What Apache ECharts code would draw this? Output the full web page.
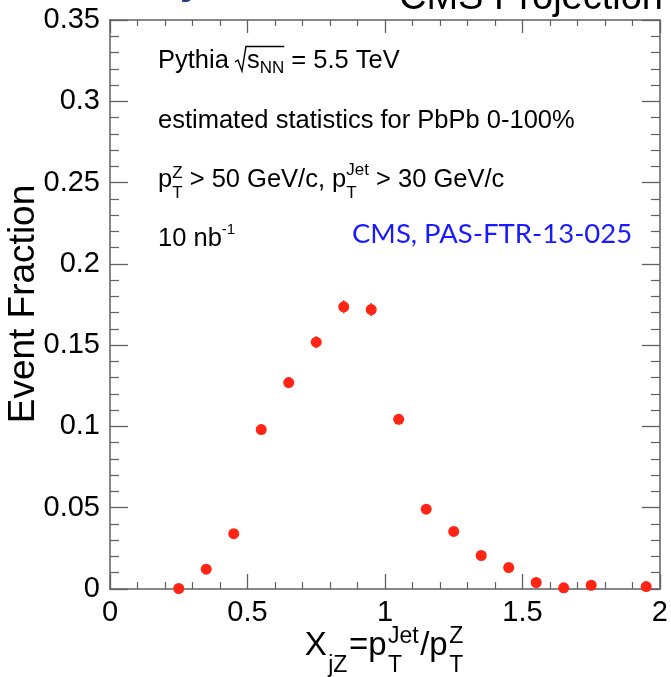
<!DOCTYPE html>
<html><head><meta charset="utf-8">
<script src="https://cdn.jsdelivr.net/npm/echarts@6/dist/echarts.min.js"></script>
<style>html,body{margin:0;padding:0;background:#fff}#c{width:671px;height:677px}</style>
</head><body><div id="c"></div>
<script>
// ---- data ----
const xjz = [0.25,0.35,0.45,0.55,0.65,0.75,0.85,0.95,1.05,1.15,1.25,1.35,1.45,1.55,1.65,1.75,1.95];
const fraction = [0.0003,0.0122,0.0340,0.0981,0.1270,0.1518,0.1736,0.1719,0.1044,0.0491,0.0354,0.0206,0.0132,0.0040,0.0007,0.0023,0.0015];
const fractionErr = [0.0002,0.0011,0.0018,0.0030,0.0034,0.0037,0.0040,0.0040,0.0031,0.0021,0.0018,0.0014,0.0011,0.0006,0.0003,0.0005,0.0004];
const xTickLabels = ['0','0.5','1','1.5','2'];
const yTickLabels = ['0','0.05','0.1','0.15','0.2','0.25','0.3','0.35'];

const FAM = '"Liberation Sans", Arial, Helvetica, sans-serif';
const RED = '#ff2414';
const AX = '#606060';
const mctx = document.createElement('canvas').getContext('2d');
function tw(t, s, fam) { mctx.font = s + 'px ' + (fam || FAM); return mctx.measureText(t).width; }
function txt(t, x, y, s, opts) {
  opts = opts || {};
  const al = opts.align || 'left', va = opts.va || 'middle';
  return {type:'text', x:x, y:y, rotation: opts.rot || 0, silent:true, z:10,
    style:{text:t, font:(opts.weight ? opts.weight + ' ' : '') + s + 'px ' + (opts.fam || FAM), fill: opts.color || '#000',
      align:al, textAlign:al, verticalAlign:va, textVerticalAlign:va}};
}
function richLine(parts, x0, mid, opts) {
  opts = opts || {};
  const fam = opts.fam || FAM, color = opts.color || '#000', gap = opts.gap || 0;
  const widths = parts.map(p => p.w != null ? p.w : Math.max.apply(null, (p.stack || [p]).map(q => tw(q.t, q.s, fam))));
  const total = widths.reduce((a,b)=>a+b,0) + gap*(parts.length-1);
  let x = opts.align === 'center' ? x0 - total/2 : (opts.align === 'right' ? x0 - total : x0);
  const els = [], xs = [];
  parts.forEach((p, i) => {
    xs.push(x);
    const items = p.stack || (p.t != null ? [p] : []);
    items.forEach(q => els.push(txt(q.t, x, mid + (q.dy || 0), q.s, {fam:fam, color:color})));
    x += widths[i] + gap;
  });
  return {els, xs, widths};
}

const S = 25.5, SS = 17;
const graphics = [];
// cut-off slide title remnants
graphics.push(txt('CMS Projection', 663, -1, 38, {align:'right'}));
graphics.push(txt('y', 180, -17, 40, {color:'#1f3a80', weight:'bold'}));

// line 1: Pythia sqrt(s_NN) = 5.5 TeV
const l1 = richLine([
  {t:'Pythia ', s:S}, {w:11}, {t:'s', s:S}, {t:'NN', s:SS, dy:7.5}, {t:' = 5.5 TeV', s:S}
], 158, 61);
graphics.push(...l1.els);
const rx = l1.xs[1], ovEnd = l1.xs[4];
graphics.push({type:'polyline', silent:true, z:10, shape:{points:[[rx-1,62],[rx+2,60],[rx+6,71],[rx+10,46.5],[ovEnd,46.5]]},
  style:{stroke:'#000', lineWidth:1.4, fill:null}});
// line 2
graphics.push(txt('estimated statistics for PbPb 0-100%', 158, 121, S));
// line 3
graphics.push(...richLine([
  {t:'p', s:S}, {stack:[{t:'T', s:SS, dy:13},{t:'Z', s:SS, dy:-7}]},
  {t:' > 50 GeV/c, p', s:S}, {stack:[{t:'T', s:SS, dy:13},{t:'Jet', s:SS, dy:-10}]},
  {t:' > 30 GeV/c', s:S}
], 158, 180).els);
// line 4
graphics.push(...richLine([{t:'10 nb', s:S}, {t:'-1', s:15, dy:-9}], 158, 239).els);
// blue reference
graphics.push(txt('CMS, PAS-FTR-13-025', 352, 234, 27.5, {fam:'Lato, "Open Sans", sans-serif', color:'#1a1aff'}));

// axis titles
graphics.push(txt('Event Fraction', 24, 304, 37, {align:'center', rot:Math.PI/2}));
const MT = 33, ST = 23;
graphics.push(...richLine([
  {t:'X', s:MT}, {t:'jZ', s:ST, dy:20}, {t:'=p', s:MT},
  {stack:[{t:'T', s:ST, dy:20},{t:'Jet', s:ST, dy:-9}]},
  {t:'/p', s:MT}, {stack:[{t:'T', s:ST, dy:20},{t:'Z', s:ST, dy:-9}]}
], 384, 646, {align:'center', gap:1.5}).els);

const chart = echarts.init(document.getElementById('c'), null, {renderer:'canvas'});
const xBase = {type:'value', min:0, max:2, interval:0.5,
  axisLine:{show:true, onZero:false, lineStyle:{color:AX, width:1.5}},
  axisTick:{show:true, inside:true, length:15, lineStyle:{color:AX, width:1.3}},
  minorTick:{show:true, splitNumber:5, length:7, lineStyle:{color:AX, width:1.2}},
  splitLine:{show:false}, minorSplitLine:{show:false}};
const yBase = {type:'value', min:0, max:0.35, interval:0.05,
  axisLine:{show:true, onZero:false, lineStyle:{color:AX, width:1.5}},
  axisTick:{show:true, inside:true, length:18, lineStyle:{color:AX, width:1.3}},
  minorTick:{show:true, splitNumber:5, length:9, lineStyle:{color:AX, width:1.2}},
  splitLine:{show:false}, minorSplitLine:{show:false}};

chart.setOption({
  animation:false,
  backgroundColor:'#fff',
  grid:{left:110, right:8, top:20, bottom:88, containLabel:false},
  xAxis:[
    Object.assign({}, xBase, {position:'bottom',
      axisLabel:{show:true, margin:9, fontSize:29, color:'#000', fontFamily:FAM,
        formatter:v => xTickLabels[Math.round(v/0.5)]}}),
    Object.assign({}, xBase, {position:'top', axisTick:Object.assign({}, xBase.axisTick, {length:13}),
      minorTick:Object.assign({}, xBase.minorTick, {length:6}), axisLabel:{show:false}})
  ],
  yAxis:[
    Object.assign({}, yBase, {position:'left',
      axisLabel:{show:true, margin:10, fontSize:29, color:'#000', fontFamily:FAM,
        formatter:v => yTickLabels[Math.round(v/0.05)]}}),
    Object.assign({}, yBase, {position:'right', axisLabel:{show:false}})
  ],
  series:[
    {type:'custom', xAxisIndex:0, yAxisIndex:0, z:2,
      data: xjz.map((x,i)=>[x, fraction[i], fractionErr[i]]),
      renderItem:(params, api)=>{
        const x = api.value(0), y = api.value(1), e = api.value(2);
        const p1 = api.coord([x, y-e]), p2 = api.coord([x, y+e]);
        return {type:'line', shape:{x1:p1[0], y1:p1[1], x2:p2[0], y2:p2[1]}, style:{stroke:RED, lineWidth:1.6}};
      }},
    {type:'scatter', xAxisIndex:0, yAxisIndex:0, z:3, symbol:'circle', symbolSize:11,
      itemStyle:{color:RED, opacity:1}, data: xjz.map((x,i)=>[x, fraction[i]])}
  ],
  graphic: graphics
});
</script></body></html>
